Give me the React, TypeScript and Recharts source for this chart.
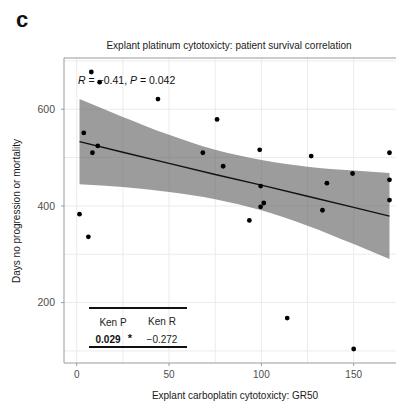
import { ComposedChart, XAxis, YAxis, Scatter, Line, Area, ReferenceLine, CartesianGrid } from 'recharts';

// GR50 vs days
const gr50 = [7.9, 12.4, 44, 3.8, 8.5, 11.4, 76, 68.3, 99.1, 127, 169.4, 1.5, 6.3, 79.3, 99.6, 101.3, 99.6, 93.5, 149.4, 135.5, 169.4, 169.4, 133.1, 114, 150];
const days = [677, 656, 621, 551, 510, 524, 579, 510, 516, 503, 510, 383, 336, 482, 441, 406, 398, 370, 467, 447, 454, 412, 391, 168, 104];

// regression line + confidence band
const bandX = [1.5, 25, 50, 75, 100, 125, 150, 169.4];
const fitY = [533, 511, 488, 465, 443, 420, 397, 379];
const bandLow = [445, 439, 429, 414, 391, 359, 321, 290];
const bandHigh = [621, 584, 547, 516, 495, 481, 473, 468];

const xTicks = [0, 50, 100, 150];
const yTicks = [200, 400, 600];
const xGrid = [0, 25, 50, 75, 100, 125, 150, 175];
const yGrid = [100, 200, 300, 400, 500, 600, 700];

const xDomain = [-6.9, 177.8];
const yDomain = [75, 706];

const points = gr50.map((x, i) => ({ x, y: days[i] }));
const band = bandX.map((x, i) => ({ x, fit: fitY[i], lo: bandLow[i], hi: bandHigh[i] }));

const font = 'Liberation Sans, Arial, sans-serif';
const gridColor = '#ebebeb';
const borderColor = '#9a9a9a';

const Overlay = () => (
    <svg width={420} height={406} style={{ position: 'absolute', left: 0, top: 0, pointerEvents: 'none' }} fontFamily={font}>
        <text x={16} y={27} fontSize={22} fontWeight="bold" fill="#111">c</text>
        <text x={229} y={49} fontSize={10} textAnchor="middle" fill="#1a1a1a">Explant platinum cytotoxicty: patient survival correlation</text>
        <text x={78} y={84} fontSize={10.5} fill="#111">
            <tspan fontStyle="italic">R</tspan> = −0.41, <tspan fontStyle="italic">P</tspan> = 0.042
        </text>
        <text x={20} y={211} fontSize={10} textAnchor="middle" fill="#1a1a1a" transform="rotate(-90 20 211)">Days no progression or mortality</text>
        <text x={235} y={399} fontSize={10} textAnchor="middle" fill="#1a1a1a">Explant carboplatin cytotoxicty: GR50</text>
        {/* Kendall table */}
        <line x1={89} x2={187} y1={308} y2={308} stroke="#111" strokeWidth={2} />
        <text x={113} y={326} fontSize={10} textAnchor="middle" fill="#222">Ken P</text>
        <text x={162} y={325} fontSize={10} textAnchor="middle" fill="#222">Ken R</text>
        <text x={108} y={343} fontSize={10} fontWeight="bold" textAnchor="middle" fill="#111">0.029</text>
        <text x={130} y={342} fontSize={11} fontWeight="bold" textAnchor="middle" fill="#111">*</text>
        <text x={162} y={343} fontSize={10} textAnchor="middle" fill="#222">−0.272</text>
        <line x1={89} x2={187} y1={347} y2={347} stroke="#111" strokeWidth={2} />
    </svg>
);

const App = () => {
    return (
        <div style={{ position: 'fixed', left: 0, top: 0, width: 396, height: 406, overflow: 'hidden', background: '#fff' }}>
            <div style={{ position: 'relative', width: 420, height: 406 }}>
                <ComposedChart width={420} height={406} margin={{ top: 58, right: 15, left: 0, bottom: 0 }}>
                    <CartesianGrid stroke={gridColor} verticalValues={xGrid} horizontalValues={yGrid} />
                    <XAxis
                        type="number"
                        dataKey="x"
                        domain={xDomain}
                        ticks={xTicks}
                        allowDataOverflow
                        height={43}
                        tickSize={3}
                        tickMargin={5}
                        stroke={borderColor}
                        tick={{ fill: '#4d4d4d', fontSize: 10, fontFamily: font }}
                    />
                    <YAxis
                        type="number"
                        domain={yDomain}
                        ticks={yTicks}
                        allowDataOverflow
                        width={64}
                        tickSize={3}
                        tickMargin={6}
                        stroke={borderColor}
                        tick={{ fill: '#4d4d4d', fontSize: 10.5, fontFamily: font }}
                    />
                    <ReferenceLine y={yDomain[1]} stroke={borderColor} strokeWidth={1.2} />
                    <Area
                        data={band}
                        dataKey={(d: any) => [d.lo, d.hi]}
                        type="monotone"
                        fill="#5a5a5a"
                        fillOpacity={0.6}
                        stroke="none"
                        isAnimationActive={false}
                    />
                    <Line data={band} dataKey="fit" type="linear" stroke="#111" strokeWidth={1.4} dot={false} isAnimationActive={false} />
                    <Scatter data={points} dataKey="y" fill="#000" shape={(p: any) => <circle cx={p.cx} cy={p.cy} r={2.4} fill="#000" />} isAnimationActive={false} />
                </ComposedChart>
                <Overlay />
            </div>
        </div>
    );
};

export default App;
